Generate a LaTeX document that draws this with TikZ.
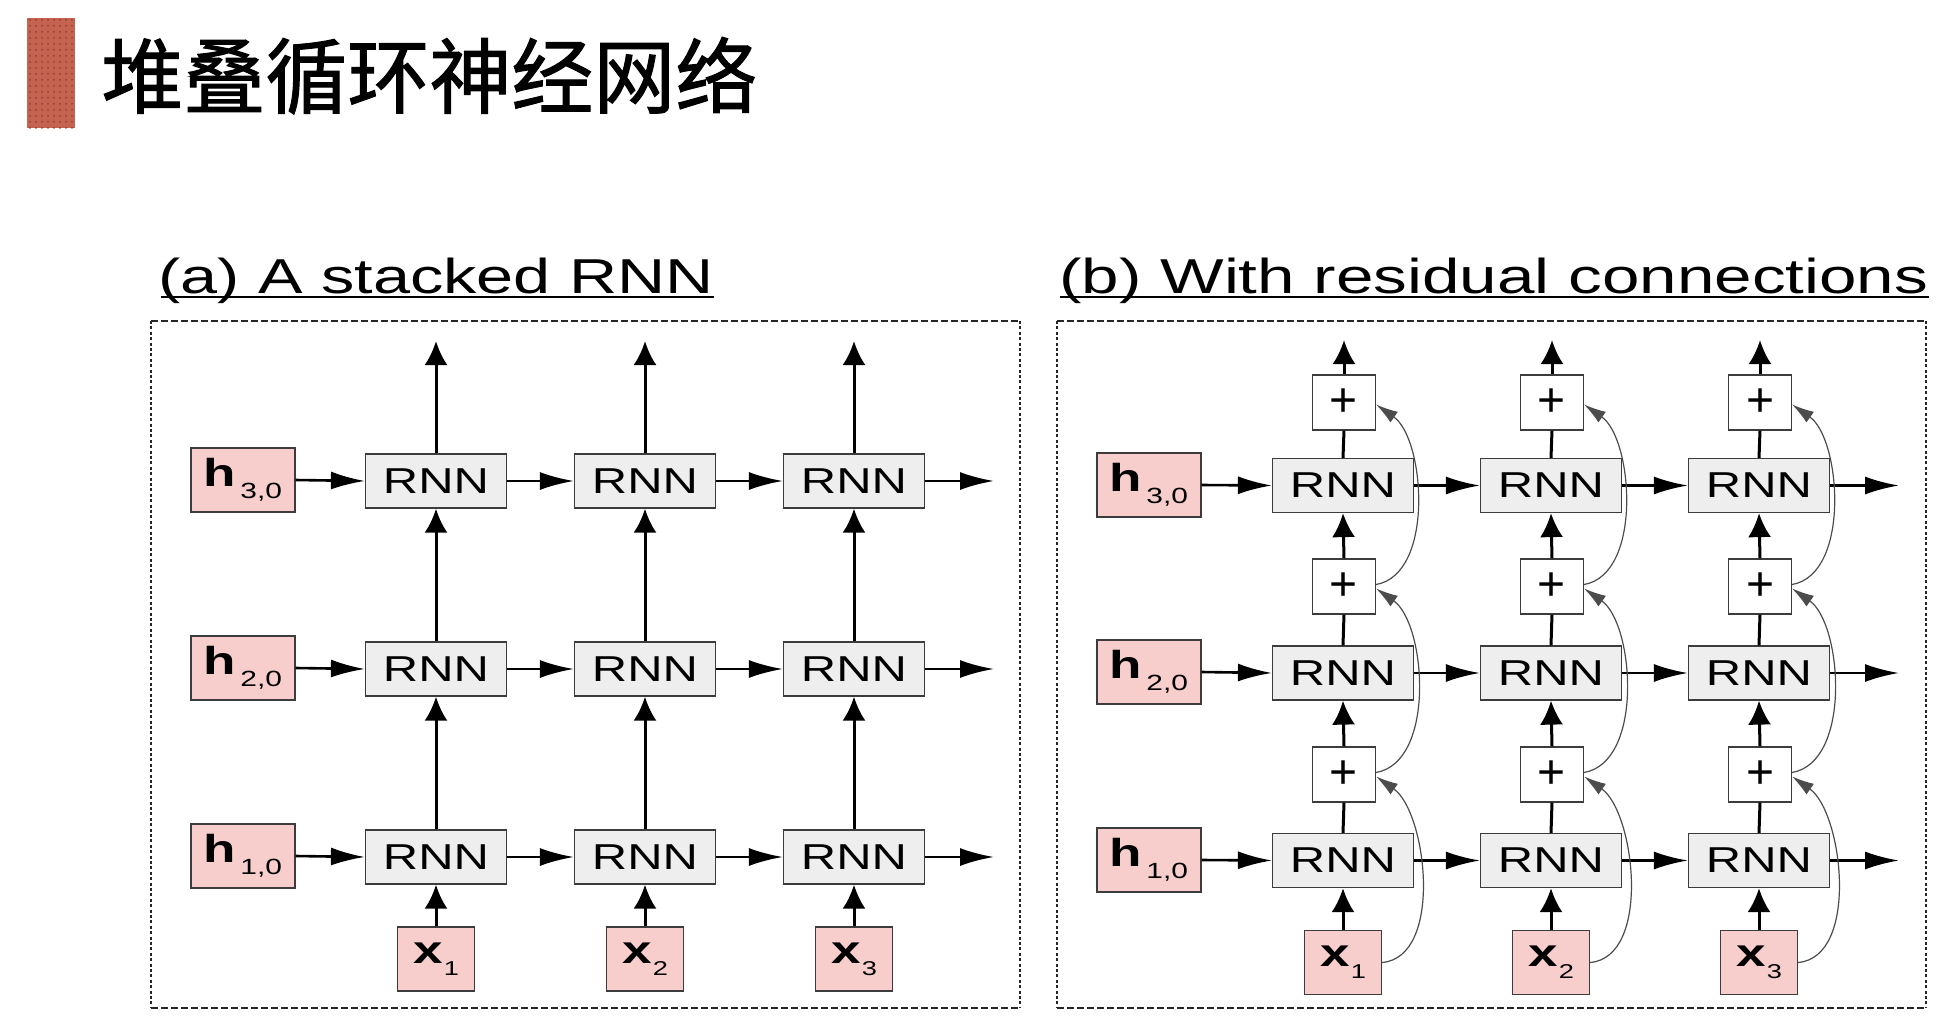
\documentclass[tikz,border=0pt]{standalone}
\usepackage{fontspec}
\usepackage{graphicx}
\setmainfont{Liberation Sans}
\newfontfamily\cjk{Noto Sans CJK SC}[FakeBold=1.3]
\usetikzlibrary{arrows.meta,patterns}
\definecolor{pinkfill}{RGB}{248,206,205}
\definecolor{rnnfill}{RGB}{238,238,238}
\definecolor{edgecol}{RGB}{60,60,60}
\definecolor{barbase}{RGB}{196,100,80}
\definecolor{bardot}{RGB}{150,62,45}
\newcommand{\sx}[1]{\scalebox{1.36}[1]{#1}}
\newcommand{\hlab}[1]{\sx{{\fontsize{19.5pt}{19.5pt}\selectfont\bfseries h}\hspace{1.5pt}\raisebox{-6pt}{\fontsize{11pt}{11pt}\selectfont #1}}}
\newcommand{\xlab}[1]{\sx{{\fontsize{19.5pt}{19.5pt}\selectfont\bfseries x}\hspace{0.5pt}\raisebox{-6pt}{\fontsize{10pt}{10pt}\selectfont #1}}}
\tikzset{
  rnnbox/.style={draw=edgecol, line width=0.6pt, fill=rnnfill, minimum width=70.5pt, minimum height=27pt, inner sep=0pt, font=\fontsize{18pt}{18pt}\selectfont},
  hbox/.style={draw=edgecol, line width=0.6pt, fill=pinkfill, minimum width=52pt, minimum height=32pt, inner sep=0pt},
  xbox/.style={draw=edgecol, line width=0.6pt, fill=pinkfill, minimum width=38.5pt, minimum height=32pt, inner sep=0pt},
  plusbox/.style={draw=edgecol, line width=0.6pt, fill=white, minimum width=31.5pt, minimum height=27.5pt, inner sep=0pt, font=\fontsize{24pt}{24pt}\selectfont},
  harr/.style={line width=1.3pt, -{Latex[length=17pt,width=9pt]}},
  varr/.style={line width=1.5pt, -{Latex[length=12pt,width=11.5pt]}},
  vlink/.style={line width=1.5pt},
  resid/.style={line width=0.6pt, draw=black!70, -{Latex[length=11pt,width=6.5pt]}},
  hdash/.style={line width=1pt, draw=black!85, dash pattern=on 3.3pt off 1.7pt},
  vdash/.style={line width=1pt, draw=black!85, dash pattern=on 1.5pt off 1.2pt},
  titletext/.style={anchor=base west, inner sep=0pt, font=\fontsize{24.5pt}{24.5pt}\selectfont}
}
\begin{document}
\begin{tikzpicture}[x=0.5pt,y=-0.5pt]
\useasboundingbox (0,0) rectangle (1956,1034);
% header
\fill[barbase] (27,18) rectangle (75,128);
\fill[pattern=dots, pattern color=bardot] (27,18) rectangle (75,128);
\node[anchor=base west, inner sep=0pt, font=\cjk\fontsize{41pt}{41pt}\selectfont] (maintitle) at (101,107) {堆叠循环神经网络};
% panel titles
\node[titletext] (titleA) at (158,293) {\sx{(a) A stacked RNN}};
\draw[line width=1pt] ([xshift=1.5pt,yshift=-1.8pt]titleA.base west) -- ([yshift=-1.8pt]titleA.base east);
\node[titletext] (titleB) at (1059,293) {\scalebox{1.375}[1]{(b) With residual connections}};
\draw[line width=1pt] ([xshift=0.5pt,yshift=-1.8pt]titleB.base west) -- ([yshift=-1.8pt]titleB.base east);
% frames
\draw[hdash] (151,321) -- (1020,321);
\draw[hdash] (151,1008) -- (1020,1008);
\draw[vdash] (151,321) -- (151,1008);
\draw[vdash] (1020,321) -- (1020,1008);
\draw[hdash] (1057,321) -- (1926,321);
\draw[hdash] (1057,1008) -- (1926,1008);
\draw[vdash] (1057,321) -- (1057,1008);
\draw[vdash] (1926,321) -- (1926,1008);
% ---------- panel (a)
\node[hbox] (ha1) at (243,856) {\hlab{1,0}};
\node[hbox] (ha2) at (243,668) {\hlab{2,0}};
\node[hbox] (ha3) at (243,480) {\hlab{3,0}};
\foreach \c/\xx in {1/436,2/645,3/854}{
  \foreach \r/\yy in {1/857,2/669,3/481}{
    \node[rnnbox] (ra\c\r) at (\xx,\yy) {\sx{RNN}};
  }
  \node[xbox] (xa\c) at (\xx,959) {\xlab{\c}};
  \coordinate (oa\c) at (\xx,341);
}
\foreach \r/\yy in {1/857,2/669,3/481}{
  \coordinate (ea\r) at (994,\yy);
  \draw[harr] (ha\r.east) -- (ra1\r.west);
  \draw[harr] (ra1\r.east) -- (ra2\r.west);
  \draw[harr] (ra2\r.east) -- (ra3\r.west);
  \draw[harr] (ra3\r.east) -- (ea\r);
}
\foreach \c in {1,2,3}{
  \draw[varr] (xa\c.north) -- (ra\c1.south);
  \draw[varr] (ra\c1.north) -- (ra\c2.south);
  \draw[varr] (ra\c2.north) -- (ra\c3.south);
  \draw[varr] (ra\c3.north) -- (oa\c);
}
% ---------- panel (b)
\node[hbox] (hb1) at (1149,860) {\hlab{1,0}};
\node[hbox] (hb2) at (1149,672) {\hlab{2,0}};
\node[hbox] (hb3) at (1149,485) {\hlab{3,0}};
\foreach \c/\xx in {1/1343,2/1551,3/1759}{
  \foreach \r/\yy in {1/860.5,2/673,3/485.5}{
    \node[rnnbox] (rb\c\r) at (\xx,\yy) {\sx{RNN}};
  }
  \foreach \r/\yy in {1/774.5,2/586.5,3/402.5}{
    \node[plusbox] (pb\c\r) at (\xx+1,\yy) {+};
  }
  \node[xbox] (xb\c) at (\xx,962.5) {\xlab{\c}};
  \coordinate (ob\c) at (\xx+1,340);
}
\foreach \r/\yy in {1/860.5,2/673,3/485.5}{
  \coordinate (eb\r) at (1899,\yy);
  \draw[harr] (hb\r.east) -- (rb1\r.west);
  \draw[harr] (rb1\r.east) -- (rb2\r.west);
  \draw[harr] (rb2\r.east) -- (rb3\r.west);
  \draw[harr] (rb3\r.east) -- (eb\r);
}
\foreach \c in {1,2,3}{
  \draw[varr] (xb\c.north) -- (rb\c1.south);
  \draw[vlink] (rb\c1.north) -- (pb\c1.south);
  \draw[varr] (pb\c1.north) -- (rb\c2.south);
  \draw[vlink] (rb\c2.north) -- (pb\c2.south);
  \draw[varr] (pb\c2.north) -- (rb\c3.south);
  \draw[vlink] (rb\c3.north) -- (pb\c3.south);
  \draw[varr] (pb\c3.north) -- (ob\c);
  \draw[resid] (xb\c.east) to[out=5,in=-35,looseness=0.85] ([yshift=-1pt]pb\c1.east);
  \draw[resid] ([yshift=1pt]pb\c1.east) to[out=10,in=-35,looseness=0.85] ([yshift=-1pt]pb\c2.east);
  \draw[resid] ([yshift=1pt]pb\c2.east) to[out=10,in=-35,looseness=0.85] ([yshift=-1pt]pb\c3.east);
}
\end{tikzpicture}
\end{document}
